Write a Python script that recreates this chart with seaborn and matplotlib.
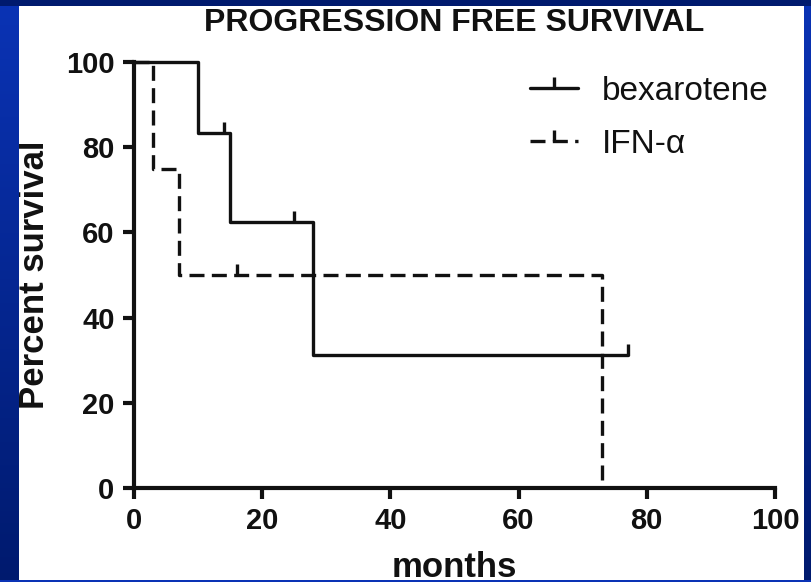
import numpy as np
import pandas as pd
import matplotlib.pyplot as plt
import seaborn as sns
from matplotlib.path import Path
from matplotlib.lines import Line2D

# Kaplan-Meier steps
bex_months = [0, 10, 15, 28, 77]
bex_surv = [100, 83.33, 62.5, 31.25, 31.25]
bex_cens_months = [14, 25, 77]
bex_cens_surv = [83.33, 62.5, 31.25]

ifn_months = [0, 3, 7, 73]
ifn_surv = [100, 75, 50, 0]
ifn_cens_months = [16]
ifn_cens_surv = [50]

x_ticks = [0, 20, 40, 60, 80, 100]
y_ticks = [0, 20, 40, 60, 80, 100]

sns.set_style("ticks")
plt.rcParams["font.family"] = ["Liberation Sans", "DejaVu Sans"]

fig = plt.figure(figsize=(8.11, 5.82), dpi=100)
ax = fig.add_axes([134 / 811, 94 / 582, 641 / 811, 426 / 582])

tick = Path([(0, 0), (0, 1)])
lw = 2.4
ink = "#111111"

bex = pd.DataFrame({"months": bex_months, "surv": bex_surv})
ifn = pd.DataFrame({"months": ifn_months, "surv": ifn_surv})

sns.lineplot(data=bex, x="months", y="surv", ax=ax, color=ink,
             linewidth=lw, drawstyle="steps-post", estimator=None, sort=False)
sns.lineplot(data=ifn, x="months", y="surv", ax=ax, color=ink,
             linewidth=lw, drawstyle="steps-post", estimator=None, sort=False)
ax.lines[1].set_dashes((4.5, 2.2))
for ln in ax.lines:
    ln.set_clip_on(False)

sns.scatterplot(x=bex_cens_months, y=bex_cens_surv, ax=ax, marker=tick, s=250,
                color=ink, edgecolor=ink, linewidth=lw, zorder=3, clip_on=False)
sns.scatterplot(x=ifn_cens_months, y=ifn_cens_surv, ax=ax, marker=tick, s=250,
                color=ink, edgecolor=ink, linewidth=lw, zorder=3, clip_on=False)

ax.set_xlim(0, 100)
ax.set_ylim(0, 100)
ax.set_xticks(x_ticks)
ax.set_yticks(y_ticks)
sns.despine(ax=ax)
for s in ["left", "bottom"]:
    ax.spines[s].set_linewidth(3)
    ax.spines[s].set_color(ink)
ax.tick_params(axis="both", direction="out", length=8, width=3, color=ink,
               labelsize=21, pad=6, labelcolor=ink)
for lab in ax.get_xticklabels() + ax.get_yticklabels():
    lab.set_fontweight("bold")

ax.set_xlabel("months", fontsize=25, fontweight="bold", labelpad=11, color=ink)
ax.set_ylabel("Percent survival", fontsize=25, fontweight="bold", labelpad=11, color=ink)
ax.set_title("PROGRESSION FREE SURVIVAL", fontsize=23, fontweight="bold", pad=22,
             color=ink)

handles = [
    Line2D([], [], color=ink, lw=lw, marker=tick, ms=16, mew=lw),
    Line2D([], [], color=ink, lw=lw, ls=(0, (4.5, 2.2)), marker=tick, ms=16, mew=lw),
]
leg = ax.legend(handles, ["bexarotene", "IFN-α"], loc="upper left", frameon=False,
                fontsize=24, handlelength=1.45, handletextpad=0.72, labelspacing=0.66,
                numpoints=1, borderpad=0, borderaxespad=0,
                bbox_to_anchor=(530 / 811, 1 - 76 / 582),
                bbox_transform=fig.transFigure)
for t in leg.get_texts():
    t.set_color(ink)

# blue slide border
grad = np.linspace(0, 1, 256).reshape(-1, 1)
border_cmap = sns.blend_palette(["#001a6e", "#0a33b5"], as_cmap=True)
for rect in [[0, 0, 19 / 811, 1], [804 / 811, 0, 7 / 811, 1]]:
    bax = fig.add_axes(rect, zorder=10)
    bax.imshow(grad, aspect="auto", cmap=border_cmap, extent=[0, 1, 1, 0])
    bax.invert_yaxis()
    bax.axis("off")
tax = fig.add_axes([0, 1 - 6 / 582, 1, 6 / 582], zorder=10)
tax.set_facecolor("#001a6e")
tax.set_xticks([])
tax.set_yticks([])
for s in tax.spines.values():
    s.set_visible(False)
bbx = fig.add_axes([0, 0, 1, 2 / 582], zorder=10)
bbx.set_facecolor("#0a33b5")
bbx.set_xticks([])
bbx.set_yticks([])
for s in bbx.spines.values():
    s.set_visible(False)

fig.savefig("out.png", dpi=100)
